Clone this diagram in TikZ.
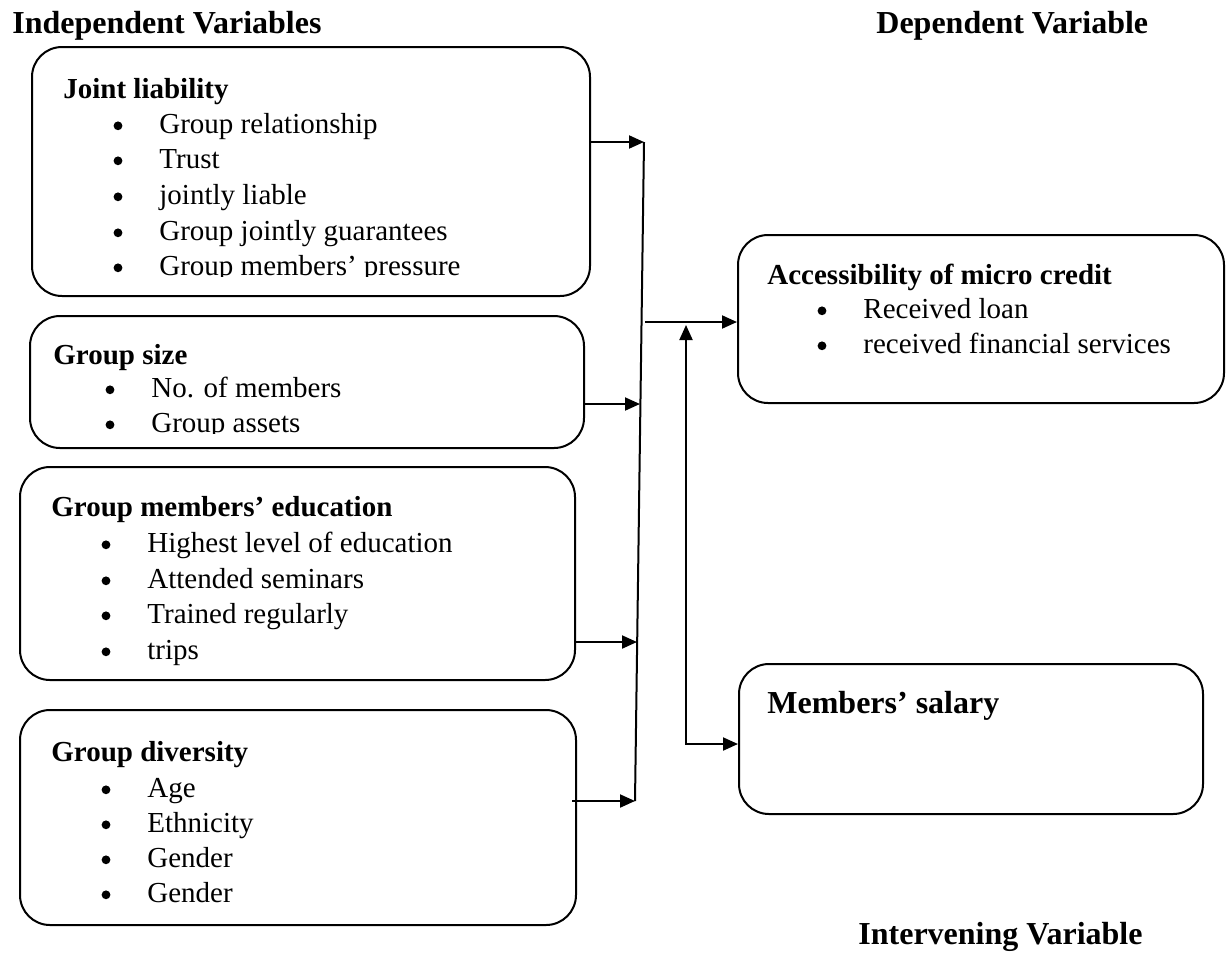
\documentclass[tikz,border=0pt]{standalone}
\usepackage{fontspec}
\setmainfont{Liberation Serif}
\usetikzlibrary{arrows.meta,positioning}
\tikzstyle{box} = [draw,line width=1pt,rounded corners=15pt,inner sep=0pt]
\tikzstyle{head} = [anchor=base west,inner sep=0pt,font=\fontsize{14.5}{17}\selectfont\bfseries]
\tikzstyle{item} = [anchor=base west,inner sep=0pt,font=\fontsize{14.5}{17}\selectfont]
\tikzstyle{title} = [anchor=base west,inner sep=0pt,font=\fontsize{16}{19}\selectfont\bfseries]
\tikzstyle{arr} = [line width=1pt,-{Triangle[length=7.5pt,width=6.5pt]}]
\tikzset{>={Triangle[length=7.5pt,width=6.5pt]}}

\begin{document}
\begin{tikzpicture}[x=0.5pt,y=-0.5pt]
    \useasboundingbox (0,0) rectangle (1226,976);

    \node [title] (indep) at (12,33) {Independent Variables};
    \node [title] (dep) at (876,33) {Dependent Variable};
    \node [title] (inter) at (858,944) {Intervening Variable};

    % independent variables
    \node [box,minimum width=279pt,minimum height=124.5pt] (jl) at (311,171.5) {};
    \node [head] (jlh) at (63,98) {Joint liability};
    \node [item] (jl1) at (159,133) {Group relationship};
    \node [item] (jl2) at (159,168) {Trust};
    \node [item] (jl3) at (159,204) {jointly liable};
    \node [item] (jl4) at (159,240) {Group jointly guarantees};
    \begin{scope}
      \clip (0,0) rectangle (1226,276);
      \node [item] (jl5) at (159,275) {Group members' pressure};
    \end{scope}

    \node [box,minimum width=277pt,minimum height=66pt] (gs) at (307,382) {};
    \node [head] (gsh) at (53,364) {Group size};
    \node [item] (gs1) at (151,397) {No. of members};
    \begin{scope}
      \clip (0,0) rectangle (1226,433);
      \node [item] (gs2) at (151,432) {Group assets};
    \end{scope}

    \node [box,minimum width=277.5pt,minimum height=106.5pt] (gme) at (297.5,573.5) {};
    \node [head] (gmeh) at (51,516) {Group members' education};
    \node [item] (gme1) at (147,552) {Highest level of education};
    \node [item] (gme2) at (147,588) {Attended seminars};
    \node [item] (gme3) at (147,623) {Trained regularly};
    \node [item] (gme4) at (147,659) {trips};

    \node [box,minimum width=278pt,minimum height=107.5pt] (gd) at (298,817.5) {};
    \node [head] (gdh) at (51,761) {Group diversity};
    \node [item] (gd1) at (147,797) {Age};
    \node [item] (gd2) at (147,832) {Ethnicity};
    \node [item] (gd3) at (147,867) {Gender};
    \node [item] (gd4) at (147,902) {Gender};

    % dependent and intervening variables
    \node [box,minimum width=243pt,minimum height=84pt] (amc) at (981,319) {};
    \node [head] (amch) at (767,284) {Accessibility of micro credit};
    \node [item] (amc1) at (863,318) {Received loan};
    \node [item] (amc2) at (863,353) {received financial services};

    \node [box,minimum width=232pt,minimum height=75pt] (ms) at (971,739) {};
    \node [title] (msh) at (767,713) {Members' salary};

    % bullets
    \foreach \n in {jl1,jl2,jl3,jl4,jl5,gs1,gs2,gme1,gme2,gme3,gme4,gd1,gd2,gd3,gd4,amc1,amc2}
      \fill ([xshift=-20.5pt,yshift=3.6pt]\n.base west) circle (2.2pt);

    % connectors
    \coordinate (bustop) at (644,142);
    \coordinate (busbot) at (635,801);
    \coordinate (b2) at (640,404);
    \coordinate (b3) at (637,642);
    \coordinate (b0) at (645,322);
    \coordinate (up) at (686,325);
    \coordinate (j) at (686,744);
    \draw [line width=1pt] (bustop) -- (busbot);
    \draw [arr] (jl.east |- bustop) -- (bustop);
    \draw [arr] (gs.east |- b2) -- (b2);
    \draw [arr] (gme.east |- b3) -- (b3);
    \draw [arr] ([xshift=-2.5pt]gd.east |- busbot) -- (busbot);
    \draw [arr] (b0) -- (amc.west |- b0);
    \draw [line width=1pt,<->] (up) -- (j) -- (ms.west |- j);
\end{tikzpicture}
\end{document}
